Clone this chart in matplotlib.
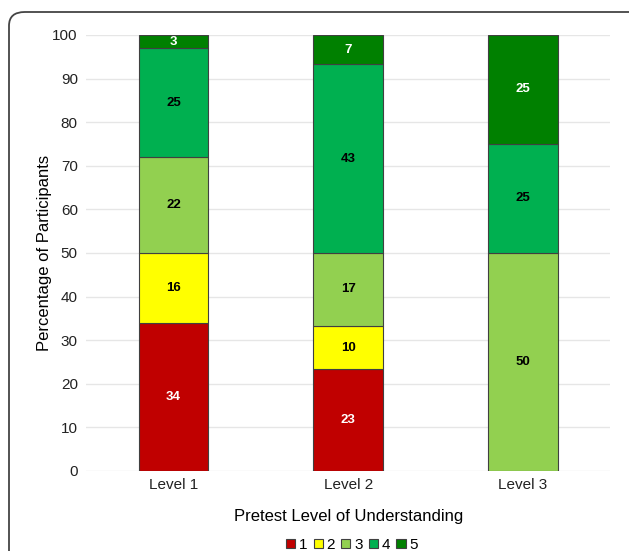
import numpy as np
import matplotlib.pyplot as plt
from matplotlib.patches import FancyBboxPatch, Patch

plt.rcParams['font.family'] = ['Liberation Sans', 'DejaVu Sans']

# Data
levels = ['Level 1', 'Level 2', 'Level 3']
series = ['1', '2', '3', '4', '5']
vals_1 = [34, 23.3, 0]
vals_2 = [16, 10, 0]
vals_3 = [22, 16.7, 50]
vals_4 = [25, 43.3, 25]
vals_5 = [3, 6.7, 25]
colors = ['#C00000', '#FFFF00', '#92D050', '#00B050', '#008000']
text_colors = ['white', 'black', 'black', 'black', 'white']

data = [vals_1, vals_2, vals_3, vals_4, vals_5]

fig = plt.figure(figsize=(6.29, 5.51), dpi=100)
ax = fig.add_axes([0.137, 0.1452, 0.833, 0.7913])

# rounded frame around the figure
frame = FancyBboxPatch((9 / 629, -0.2), 1.1, 1.2 - 12 / 551,
                       boxstyle='round,pad=0,rounding_size=0.025',
                       transform=fig.transFigure, fill=False,
                       edgecolor='#444444', linewidth=1.3)
fig.patches.append(frame)

x = np.arange(len(levels))
bottom = np.zeros(len(levels))
for vals, col, tcol in zip(data, colors, text_colors):
    vals = np.array(vals, dtype=float)
    ax.bar(x, vals, width=0.4, bottom=bottom, color=col,
           edgecolor='#404040', linewidth=0.8, zorder=3)
    for xi, v, b in zip(x, vals, bottom):
        if v > 0:
            ax.text(xi, b + v / 2, f'{v:.0f}', ha='center', va='center',
                    fontsize=9.5, fontweight='bold', color=tcol, zorder=4)
    bottom += vals

ax.set_xlim(-0.5, 2.5)
ax.set_ylim(0, 100)
ax.set_yticks(range(0, 101, 10))
ax.set_xticks(x)
ax.set_xticklabels(levels)
ax.yaxis.grid(True, color='#E6E6E6', linewidth=1, zorder=0)
ax.tick_params(axis='both', length=0, labelsize=11, colors='#222222')
ax.tick_params(axis='y', pad=6)
ax.tick_params(axis='x', pad=5)
for s in ax.spines.values():
    s.set_visible(False)

ax.set_ylabel('Percentage of Participants', fontsize=12, labelpad=0)
ax.set_xlabel('Pretest Level of Understanding', fontsize=12, labelpad=12)

handles = [Patch(facecolor=c, edgecolor='#404040', linewidth=0.8) for c in colors]
fig.legend(handles, series, loc='center', bbox_to_anchor=(352 / 629, 1 - 545 / 551),
           ncol=5, frameon=False, fontsize=11, handlelength=0.6, handleheight=0.6,
           handletextpad=0.25, columnspacing=0.4, borderpad=0)

fig.savefig('out.png', dpi=100)
